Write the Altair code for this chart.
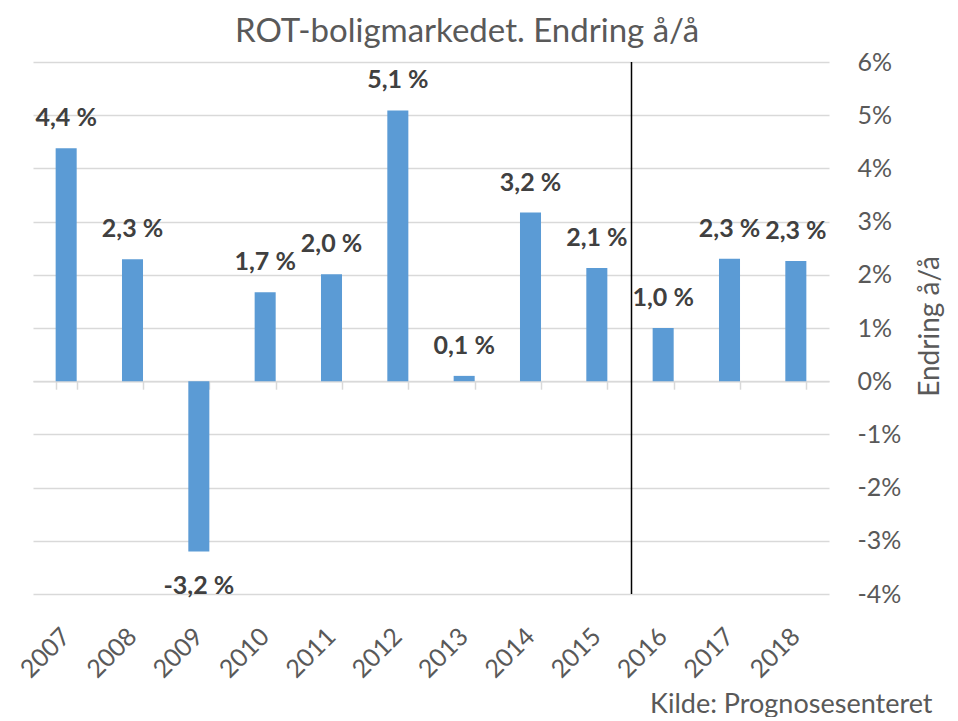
import altair as alt
import pandas as pd

# ---- data ----
years = ["2007", "2008", "2009", "2010", "2011", "2012",
         "2013", "2014", "2015", "2016", "2017", "2018"]
values = [4.38, 2.29, -3.20, 1.67, 2.01, 5.09, 0.10, 3.17, 2.13, 1.00, 2.30, 2.26]
labels = ["4,4 %", "2,3 %", "-3,2 %", "1,7 %", "2,0 %", "5,1 %",
          "0,1 %", "3,2 %", "2,1 %", "1,0 %", "2,3 %", "2,3 %"]
y_ticks = [-4, -3, -2, -1, 0, 1, 2, 3, 4, 5, 6]
y_domain = [-4, 6]
divider_year = ["2016"]
title_text = "ROT-boligmarkedet. Endring å/å"
y_title = "Endring å/å"
source_text = "Kilde: Prognosesenteret"

df = pd.DataFrame({"year": years, "value": values, "label": labels})
div_df = pd.DataFrame({"year": divider_year})

# ---- style ----
FONT = "Lato"
W, H = 796, 532
BAR = "#5B9BD5"
GRID = "#D9D9D9"
TXT = "#595959"
LBL = "#404040"
step = W / len(years)
zero_offset = -H * (0 - y_domain[0]) / (y_domain[1] - y_domain[0])

x_scale = alt.Scale(domain=years, paddingInner=0.683, paddingOuter=0.3415)
y_scale = alt.Scale(domain=y_domain, nice=False, zero=False)

base = alt.Chart(df)

bars = base.mark_bar(color=BAR).encode(
    x=alt.X("year:N", scale=x_scale,
            axis=alt.Axis(orient="bottom", labelAngle=-45, labelAlign="right",
                          labelBaseline="middle", labelPadding=38,
                          domain=False, ticks=False, grid=False,
                          labelFont=FONT, labelFontSize=25, labelColor=TXT,
                          title=source_text, titleFont=FONT, titleFontSize=27,
                          titleFontWeight="normal", titleColor=TXT,
                          titleAlign="right", titleAnchor="end",
                          titleBaseline="alphabetic", titleX=899, titleY=118)),
    y=alt.Y("value:Q", scale=y_scale,
            axis=alt.Axis(orient="right", values=y_ticks,
                          labelExpr="datum.value + '%'",
                          grid=True, gridColor=GRID, gridWidth=1.5,
                          domain=False, ticks=False, labelPadding=28,
                          labelFont=FONT, labelFontSize=25, labelColor=TXT,
                          labelAlign="left", labelBaseline="middle",
                          title=y_title, titleFont=FONT, titleFontSize=28,
                          titleFontWeight="normal", titleColor=TXT,
                          titleAngle=270, titleAlign="center",
                          titleBaseline="middle", titleX=101, titleY=H / 2 - 2)),
)

pos_labels = base.transform_filter("datum.value >= 0").mark_text(
    font=FONT, fontSize=25, fontWeight="bold", color=LBL,
    baseline="alphabetic", dy=-22,
).encode(
    x=alt.X("year:N", scale=x_scale,
            axis=alt.Axis(orient="bottom", offset=zero_offset, labels=False,
                          ticks=True, tickBand="extent", tickSize=8,
                          tickColor=GRID, tickWidth=1.5,
                          domain=True, domainColor=GRID, domainWidth=1.5,
                          grid=False, title=None)),
    y=alt.Y("value:Q", scale=y_scale),
    text="label:N",
)

neg_labels = base.transform_filter("datum.value < 0").mark_text(
    font=FONT, fontSize=25, fontWeight="bold", color=LBL,
    baseline="alphabetic", dy=43,
).encode(
    x=alt.X("year:N", scale=x_scale, axis=None),
    y=alt.Y("value:Q", scale=y_scale),
    text="label:N",
)

divider = alt.Chart(div_df).mark_rule(
    color="black", strokeWidth=1.5, xOffset=-step / 2 + 1.5
).encode(x=alt.X("year:N", scale=x_scale, axis=None))

chart = alt.layer(bars, divider, pos_labels, neg_labels).resolve_axis(
    x="independent"
).properties(
    width=W, height=H,
    padding={"left": 25, "top": 54, "right": 121, "bottom": 123},
    autosize=alt.AutoSizeParams(type="none"),
    background="white",
    title=alt.TitleParams(text=title_text, font=FONT, fontSize=33,
                          fontWeight="normal", color=TXT, anchor="middle",
                          frame="group", dx=36, dy=41, offset=16,
                          baseline="alphabetic"),
).configure_view(stroke=None)

chart.save("out.html", embed_options={"renderer": "svg", "actions": False})
